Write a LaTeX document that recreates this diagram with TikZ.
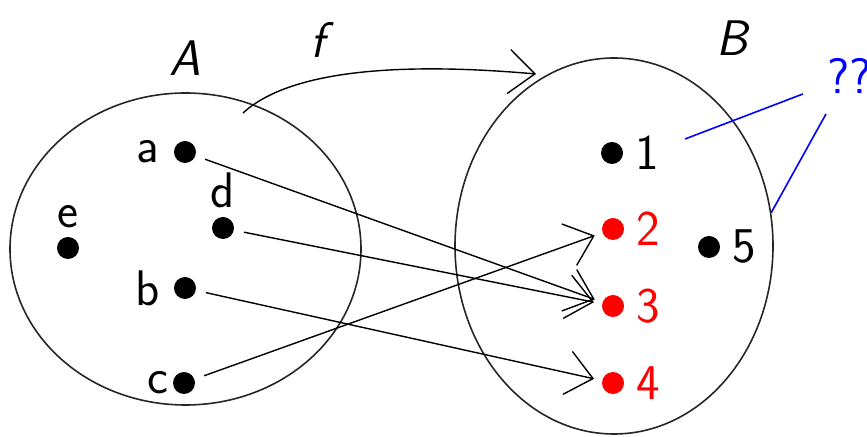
\documentclass[tikz,border=0pt]{standalone}
\usepackage{tikz}
\usetikzlibrary{arrows.meta,shapes.geometric,calc}
\renewcommand{\familydefault}{\sfdefault}

\begin{document}
\begin{tikzpicture}[x=0.5pt, y=-0.5pt,
    every node/.style={font=\fontsize{25}{30}\selectfont},
    setbox/.style={ellipse, draw=black!85, line width=0.8pt, inner sep=0pt},
    pt/.style={circle, fill=black, inner sep=0pt, minimum size=11pt},
    redpt/.style={pt, fill=red},
    lbl/.style={label distance=7pt, inner sep=0pt},
    map/.style={-{Straight Barb[length=13pt,width=22pt]}, line width=0.7pt,
        shorten <=5pt, shorten >=4pt},
    qline/.style={blue, line width=0.8pt}
]
\useasboundingbox (0,0) rectangle (867,437);

% the two sets
\node[setbox, minimum width=175.5pt, minimum height=156pt] (setA) at (185.5,249) {};
\node[setbox, minimum width=159pt, minimum height=188pt] (setB) at (614,246) {};
\node (labA) at (185,58) {\textit{A}};
\node (labB) at (733,38) {\textit{B}};

% elements of A
\node[pt, label={[lbl]left:a}] (a) at (185,152) {};
\node[pt, label={[lbl, label distance=4pt]above:d}] (d) at (223,228) {};
\node[pt, label={[lbl, label distance=4pt]above:e}] (e) at (68,248) {};
\node[pt, label={[lbl]left:b}] (b) at (185,288) {};
\node[pt, label={[lbl, label distance=2pt]left:c}] (c) at (184,383) {};

% elements of B
\node[pt, label={[lbl, label distance=6pt]right:1}] (n1) at (612,153) {};
\node[redpt, label={[lbl, label distance=6pt, red]right:2}] (n2) at (613,229) {};
\node[redpt, label={[lbl, label distance=6pt, red]right:3}] (n3) at (613,306) {};
\node[redpt, label={[lbl, label distance=6pt, red]right:4}] (n4) at (613,383) {};
\node[pt, label={[lbl, label distance=6pt]right:5}] (n5) at (709,247) {};

% the map f
\draw[map] (a) -- (n3);
\draw[map] (d) -- (n3);
\draw[map] (b) -- (n4);
\draw[map] (c) -- (n2);

\coordinate (fstart) at (243,113);
\coordinate (fend) at (536,74);
\draw[-{Straight Barb[length=13pt,width=22pt]}, line width=0.7pt]
    (fstart) .. controls (290,70) and (400,62) .. (fend);
\node (labf) at (322,40) {\textit{f}};

% question marks
\node[text=blue, anchor=west, inner sep=0pt] (qq) at (827,76) {??};
\coordinate (qa) at ($(qq.south west)+(-24,0)$);
\coordinate (qb) at ($(qq.south west)+(-1,20)$);
\coordinate (q1) at (685,139);
\draw[qline] (qa) -- (q1);
\draw[qline] (qb) -- (setB.12);
\end{tikzpicture}
\end{document}
